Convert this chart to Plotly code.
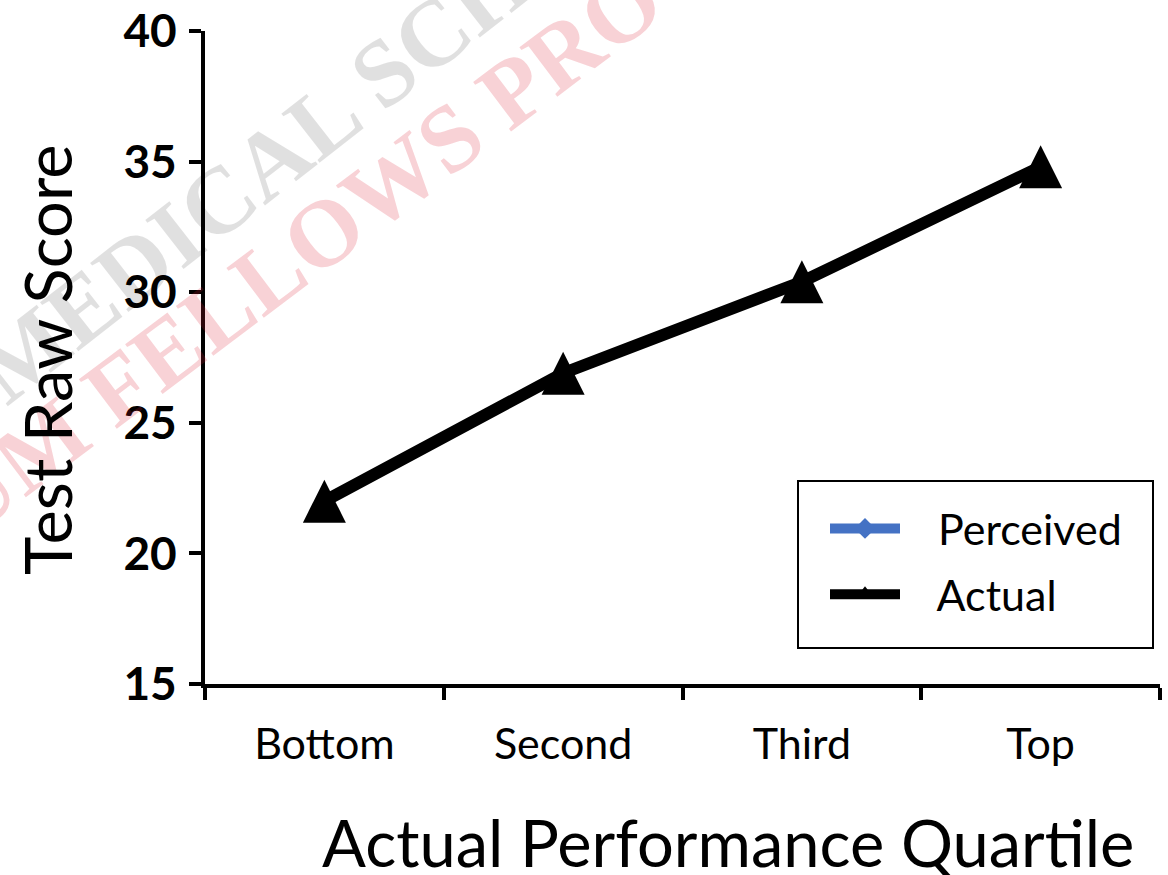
import plotly.graph_objects as go

# ---- data ----
categories = ["Bottom", "Second", "Third", "Top"]
actual_scores = [22.0, 26.9, 30.4, 34.8]
perceived_scores = [None, None, None, None]  # not shown in this build of the chart
y_ticks = [15, 20, 25, 30, 35, 40]

FONT = "Lato"
NB = "\u00a0" * 3

fig = go.Figure()

# legend entries
fig.add_trace(go.Scatter(
    x=categories, y=perceived_scores, name=NB + "Perceived",
    mode="lines+markers", legendgroup="p",
    line=dict(color="#4472C4", width=10),
    marker=dict(symbol="diamond", size=16, color="#4472C4"),
))
fig.add_trace(go.Scatter(
    x=categories, y=[None] * len(categories), name=NB + "Actual",
    mode="lines+markers", legendgroup="a",
    line=dict(color="black", width=10),
    marker=dict(symbol="triangle-up", size=16, color="black"),
))
# actual data
fig.add_trace(go.Scatter(
    x=categories, y=actual_scores, name="Actual",
    mode="lines+markers", showlegend=False,
    line=dict(color="black", width=12, backoff=0),
    marker=dict(symbol="arrow-down", angle=180, standoff=21.5, size=43,
                color="black", line=dict(width=0)),
))

# watermark (drawn first so titles sit above it)
fig.add_annotation(text="MEDICAL SCHOOL", xref="paper", yref="paper",
                   x=(335 - 205) / 955, y=(684 - 110) / 653,
                   xanchor="center", yanchor="middle", textangle=-38, showarrow=False,
                   font=dict(family="Liberation Serif", size=95, weight="bold",
                             color="rgba(0,0,0,0.12)"))
fig.add_annotation(text="UM FELLOWS PROGRAM", xref="paper", yref="paper",
                   x=(420 - 205) / 955, y=(684 - 160) / 653,
                   xanchor="center", yanchor="middle", textangle=-37, showarrow=False,
                   font=dict(family="Liberation Serif", size=95, weight="bold",
                             color="rgba(220,30,50,0.2)"))

# axis titles
fig.add_annotation(text="Test Raw Score", xref="paper", yref="paper",
                   x=(47 - 205) / 955, y=(684 - 360) / 653,
                   xanchor="center", yanchor="middle", textangle=-90, showarrow=False,
                   font=dict(family=FONT, size=65, color="black"))
fig.add_annotation(text="Actual Performance Quartile", xref="paper", yref="paper",
                   x=(728 - 205) / 955, y=(684 - 842) / 653,
                   xanchor="center", yanchor="middle", showarrow=False,
                   font=dict(family=FONT, size=65, color="black"))

# legend frame
fig.add_shape(type="rect", xref="paper", yref="paper",
              x0=(798 - 205) / 955, x1=(1153 - 205) / 955,
              y0=(684 - 648) / 653, y1=(684 - 481) / 653,
              line=dict(color="black", width=2), fillcolor="rgba(0,0,0,0)")

fig.update_layout(
    width=1168, height=875,
    margin=dict(l=205, r=8, t=31, b=191),
    paper_bgcolor="white", plot_bgcolor="white",
    showlegend=True,
    legend=dict(
        x=(798 - 205) / 955, y=(684 - 494) / 653, xanchor="left", yanchor="top",
        borderwidth=0, bgcolor="rgba(0,0,0,0)",
        font=dict(family=FONT, size=43, color="black"),
        itemsizing="trace", itemwidth=70, indentation=27, tracegroupgap=7,
    ),
    xaxis=dict(
        type="category", categoryorder="array", categoryarray=categories,
        range=[-0.5, 3.5], tickson="boundaries", automargin=False,
        ticks="outside", ticklen=12, tickwidth=4, tickcolor="black",
        showline=True, linewidth=4, linecolor="black",
        showgrid=False, zeroline=False,
        tickfont=dict(family=FONT, size=43, color="black"),
        ticklabelstandoff=19,
    ),
    yaxis=dict(
        range=[15, 40], tickvals=y_ticks, automargin=False,
        ticks="outside", ticklen=12, tickwidth=4, tickcolor="black",
        showline=True, linewidth=4, linecolor="black",
        showgrid=False, zeroline=False,
        tickfont=dict(family=FONT, size=46, color="black", weight="bold"),
        ticklabelstandoff=3,
    ),
)

fig.write_html("out.html")
